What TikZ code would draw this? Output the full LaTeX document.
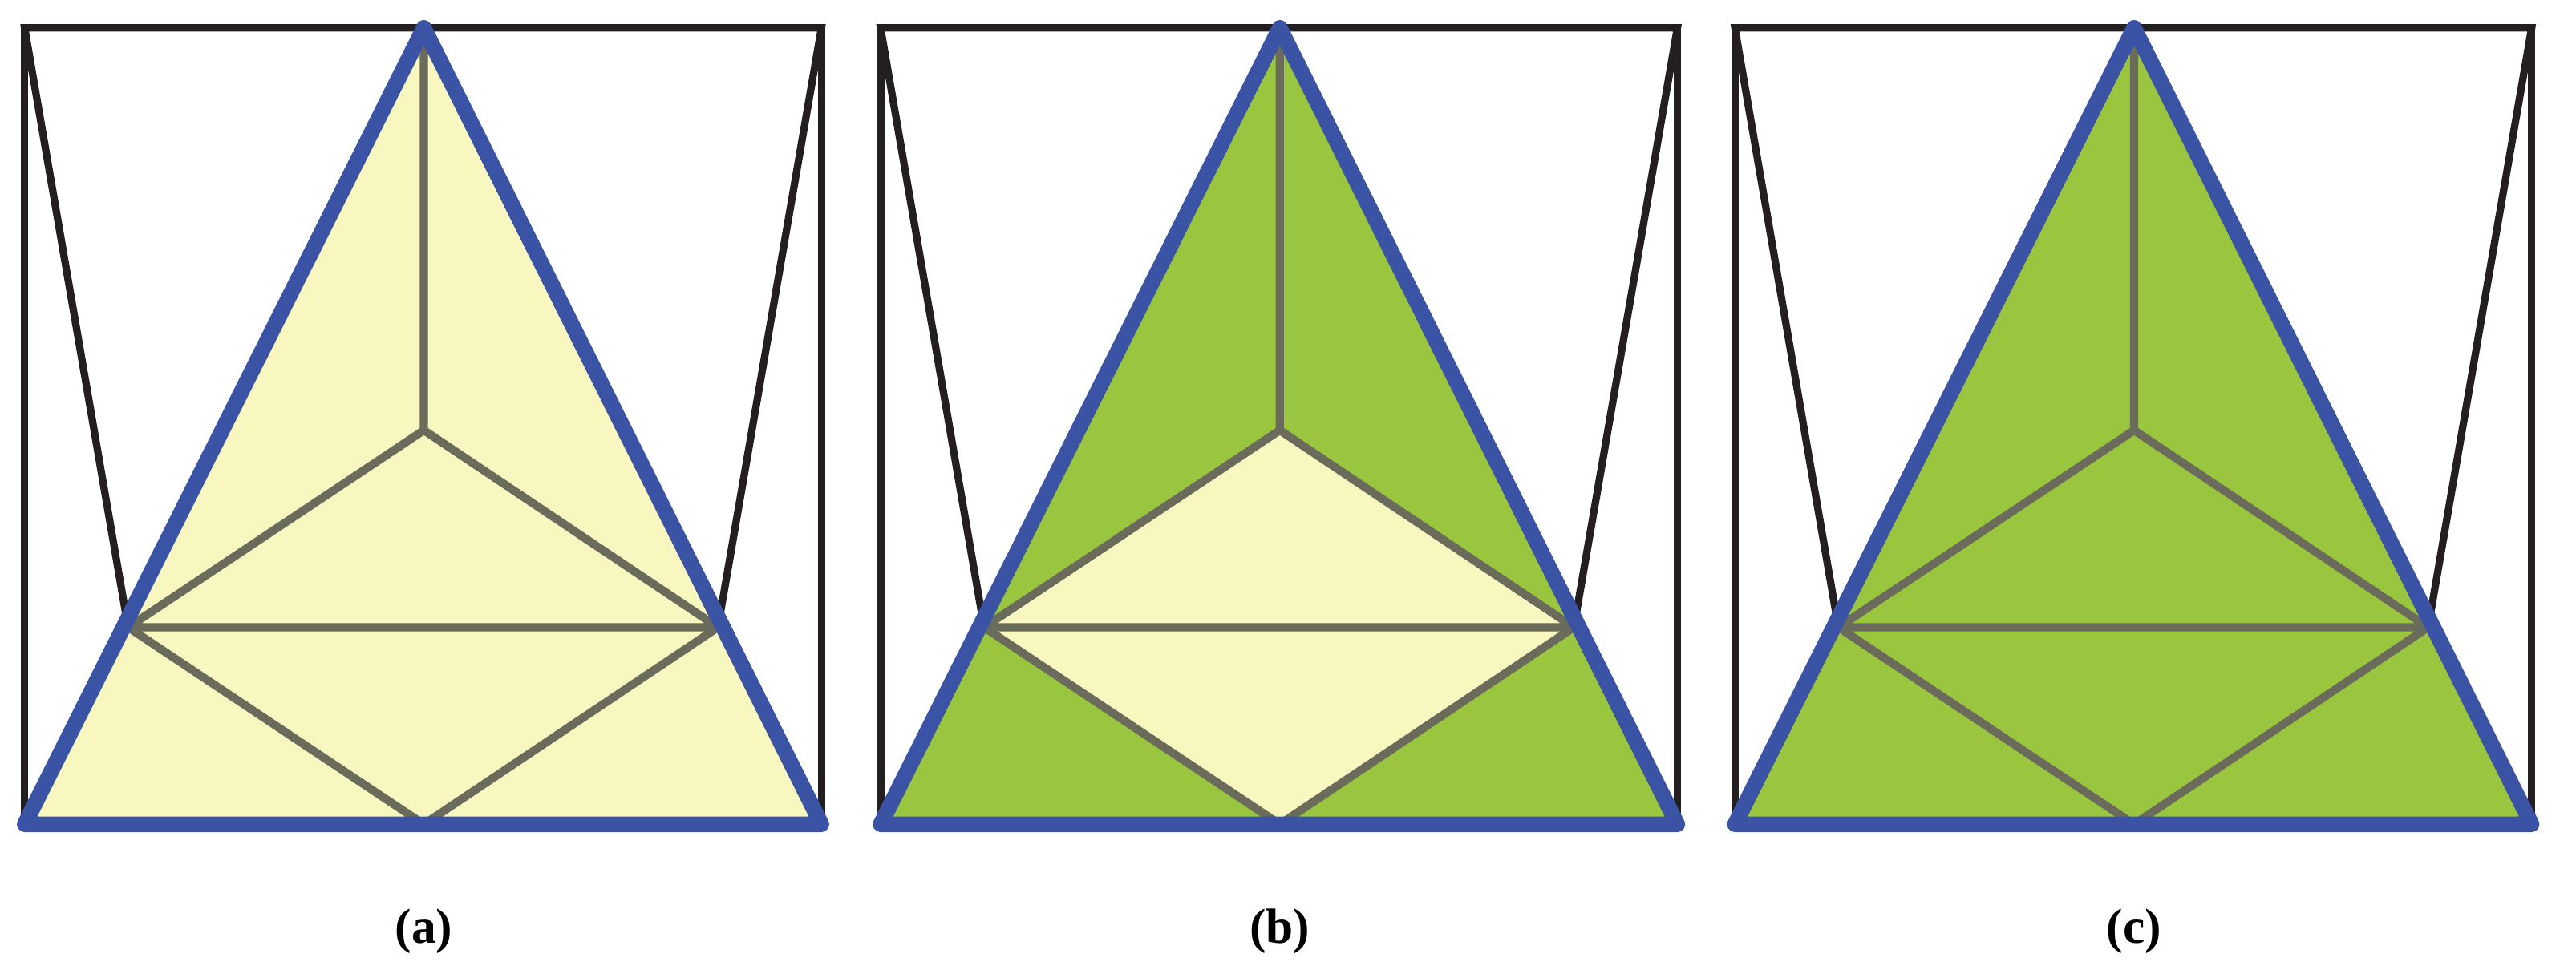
\documentclass[tikz,border=0pt]{standalone}
\usepackage{fontspec}
\setmainfont{Liberation Serif}
\definecolor{ylw}{HTML}{F9F7C0}
\definecolor{grn}{HTML}{99C63E}
\definecolor{blu}{HTML}{3A53A4}
\definecolor{gry}{HTML}{6B6B5B}
\definecolor{blk}{HTML}{231F20}
\tikzset{frame/.style={draw=blk,line width=4.5pt,line join=miter},
 inner/.style={draw=gry,line width=5pt},
 tri/.style={draw=blu,line width=9.5pt,line join=round,line cap=round},
 lab/.style={font=\fontsize{30}{34}\selectfont\bfseries}}
\newcommand{\panel}[4]{%
 \begin{scope}[xshift=#1]
  \coordinate (A) at (258,-17); \coordinate (L) at (15,-502); \coordinate (R) at (500,-502);
  \coordinate (O) at (258,-262); \coordinate (P) at (78,-382); \coordinate (Q) at (437,-382);
  \coordinate (M) at (258,-502);
  \fill[#2] (A)--(P)--(O)--(Q)--cycle;
  \fill[#3] (P)--(O)--(Q)--(M)--cycle;
  \fill[#2] (P)--(L)--(M)--cycle;
  \fill[#2] (Q)--(R)--(M)--cycle;
  \draw[frame] (P)--(15,-17)--(500,-17)--(Q);
  \draw[frame] (15,-17)--(L); \draw[frame] (500,-17)--(R);
  \draw[inner] (A)--(O) (P)--(O)--(Q) (P)--(Q) (P)--(M)--(Q);
  \draw[tri] (A)--(L)--(R)--cycle;
  \node[lab] at (258,-567) {#4};
 \end{scope}}
\begin{document}
\begin{tikzpicture}[x=1pt,y=1pt]
\useasboundingbox (0,0) rectangle (1568,-593);
\panel{0pt}{ylw}{ylw}{(a)}
\panel{521pt}{grn}{ylw}{(b)}
\panel{1041pt}{grn}{grn}{(c)}
\end{tikzpicture}
\end{document}
